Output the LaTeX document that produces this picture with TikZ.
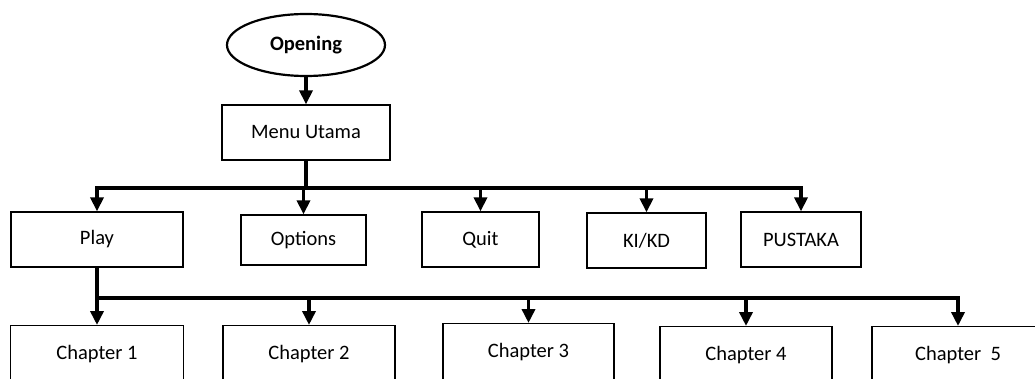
\documentclass[tikz,border=0pt]{standalone}
\usepackage{fontspec}
\setmainfont{Carlito}
\usepackage{tikz}
\usetikzlibrary{calc}
\usetikzlibrary{arrows.meta}
\usetikzlibrary{shapes.geometric}
\usetikzlibrary{positioning}
\tikzset{menubox/.style={rectangle,draw=black,line width=1.3pt,inner sep=2pt,minimum height=55pt,font=\fontsize{20.5}{24}\selectfont}}
\tikzset{startnode/.style={ellipse,draw=black,line width=2.2pt,inner sep=0pt,minimum width=158pt,minimum height=62pt,font=\fontsize{20.5}{24}\selectfont\bfseries}}
\tikzset{link/.style={line width=3.6pt,line cap=rect}}
\tikzset{flow/.style={line width=3.6pt,-{Triangle[length=14pt,width=13pt]}}}

\begin{document}
\begin{tikzpicture}[x=1pt,y=-1pt]
\useasboundingbox (0,0) rectangle (1035,379);

    \node[startnode] (opening) at (306,45){Opening};
    \node[menubox,minimum width=168pt] (menu) at (306,132.5){Menu Utama};

    \node[menubox,minimum width=172pt] (play) at (97,239.5){Play};
    \node[menubox,minimum width=125pt,minimum height=50pt] (options) at (303.5,240){Options};
    \node[menubox,minimum width=117pt] (quit) at (480.5,239.5){Quit};
    \node[menubox,minimum width=119pt] (kikd) at (646.5,240.5){KI/KD};
    \node[menubox,minimum width=120pt] (pustaka) at (801,239.5){PUSTAKA};

    % chapter boxes run past the lower edge
    \node[menubox,minimum width=173pt,minimum height=57pt,anchor=north] (ch1) at (97,325){Chapter 1};
    \node[menubox,minimum width=172pt,minimum height=57pt,anchor=north] (ch2) at (309,325){Chapter 2};
    \node[menubox,minimum width=171pt,minimum height=57pt,anchor=north] (ch3) at (528.5,323){Chapter 3};
    \node[menubox,minimum width=172pt,minimum height=57pt,anchor=north] (ch4) at (746,326){Chapter 4};
    \node[menubox,minimum width=172pt,minimum height=57pt,anchor=north] (ch5) at (958,326){Chapter\ \ 5};

    \coordinate (hubA) at (306,188);
    \coordinate (hubB) at (97,298);

    \draw[flow] (opening) -- (menu);
    \draw[link] (menu.south) -- (hubA);
    \draw[flow] (hubA) -| (play.north);
    \draw[flow] (hubA) -| (pustaka.north);
    \foreach \n in {options,quit,kikd}
        \draw[flow] (hubA -| \n.north) -- (\n.north);

    \draw[link] (play.south) -- (hubB);
    \draw[flow] (hubB) -- (ch1.north);
    \draw[flow] (hubB) -| (ch5.north);
    \foreach \n in {ch2,ch3,ch4}
        \draw[flow] (hubB -| \n.north) -- (\n.north);

\end{tikzpicture}
\end{document}
